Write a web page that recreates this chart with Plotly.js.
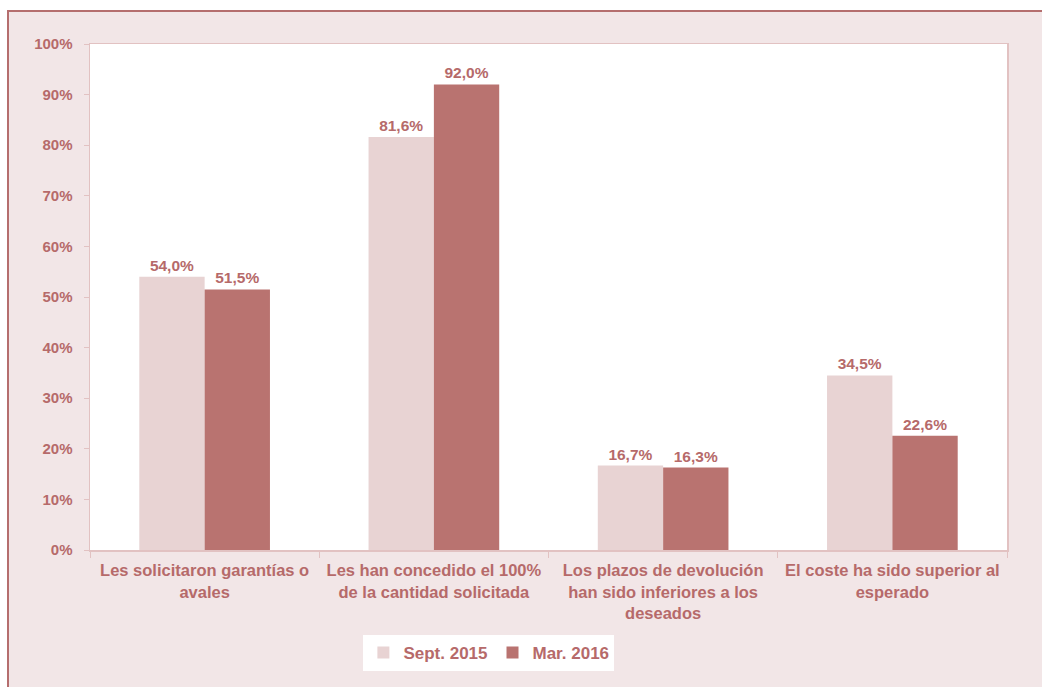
<!DOCTYPE html>
<html>
<head>
<meta charset="utf-8">
<script src="https://cdn.plot.ly/plotly-3.0.1.min.js"></script>
<style>
  html, body { margin: 0; padding: 0; background: #ffffff; width: 1042px; height: 687px; overflow: hidden; }
  #frame { position: absolute; left: 7px; top: 10px; width: 1035px; height: 677px;
           border-left: 2px solid #b56e6e; border-top: 2px solid #b56e6e; background: #f2e6e7; }
  #chart { width: 1033px; height: 675px; }
</style>
</head>
<body>
<div id="frame"><div id="chart"></div></div>
<script>
const categories = [
  "Les solicitaron garantías o<br>avales",
  "Les han concedido el 100%<br>de la cantidad solicitada",
  "Los plazos de devolución<br>han sido inferiores a los<br>deseados",
  "El coste ha sido superior al<br>esperado"
];
const seriesNames = ["Sept. 2015", "Mar. 2016"];
const sept2015 = [54.0, 81.6, 16.7, 34.5];
const mar2016 = [51.5, 92.0, 16.3, 22.6];
const yTicks = [0, 10, 20, 30, 40, 50, 60, 70, 80, 90, 100];
const yTickText = ["0%", "10%", "20%", "30%", "40%", "50%", "60%", "70%", "80%", "90%", "100%"];

const textColor = "#b66a6a";
const lineColor = "#e2c2c2";
const font = { family: "Liberation Sans, Arial, sans-serif", size: 14, color: textColor, weight: "bold" };

const traces = [
  { type: "bar", name: seriesNames[0], x: categories, y: sept2015,
    marker: { color: "#e8d3d3" },
    texttemplate: "%{y:.1f}%", textposition: "outside", cliponaxis: false,
    textfont: Object.assign({}, font, { size: 15.5 }) },
  { type: "bar", name: seriesNames[1], x: categories, y: mar2016,
    marker: { color: "#b97370" },
    texttemplate: "%{y:.1f}%", textposition: "outside", cliponaxis: false,
    textfont: Object.assign({}, font, { size: 15.5 }) }
];

const layout = {
  width: 1033, height: 675,
  margin: { l: 81, r: 35, t: 32, b: 137 },
  paper_bgcolor: "#f2e6e7",
  plot_bgcolor: "#ffffff",
  separators: ",.",
  barmode: "group",
  bargap: 0.43,
  bargroupgap: 0,
  font: font,
  showlegend: true,
  legend: {
    orientation: "h", x: 0.435, xanchor: "center", y: -0.168, yanchor: "top",
    bgcolor: "#ffffff", font: Object.assign({}, font, { size: 17 }),
    itemwidth: 30, traceorder: "normal"
  },
  xaxis: {
    type: "category",
    showline: true, linecolor: lineColor, linewidth: 1.5, mirror: true,
    ticks: "outside", tickson: "boundaries", ticklen: 6, tickcolor: lineColor,
    tickfont: Object.assign({}, font, { size: 16.5 }),
    ticklabelstandoff: 5,
    showgrid: false, zeroline: false
  },
  yaxis: {
    range: [0, 100], tickmode: "array", tickvals: yTicks, ticktext: yTickText,
    showline: true, linecolor: lineColor, linewidth: 1.5, mirror: true,
    ticks: "outside", ticklen: 5, tickcolor: lineColor,
    tickfont: Object.assign({}, font, { size: 15 }),
    ticklabelstandoff: 8,
    showgrid: false, zeroline: false
  }
};

Plotly.newPlot("chart", traces, layout, { displayModeBar: false, staticPlot: true });
</script>
</body>
</html>
